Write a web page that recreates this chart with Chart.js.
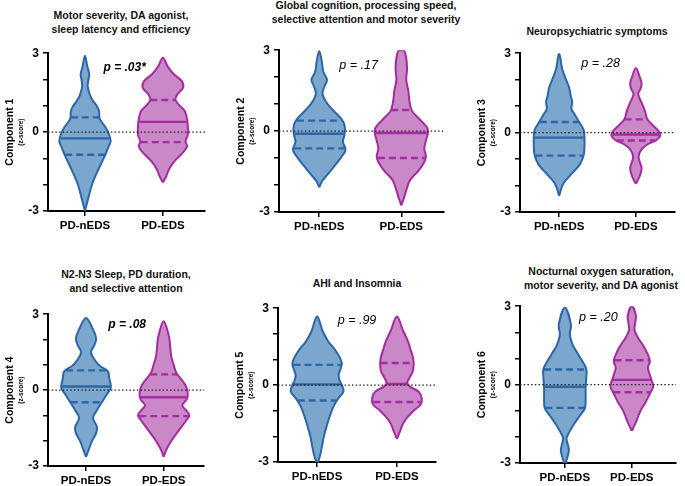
<!DOCTYPE html>
<html>
<head>
<meta charset="utf-8">
<script src="https://cdn.jsdelivr.net/npm/chart.js@4.4.1/dist/chart.umd.min.js"></script>
<style>
  body { margin: 0; background: #fff; width: 685px; height: 486px; position: relative; overflow: hidden;
         font-family: "Liberation Sans", Arial, sans-serif; }
  canvas { position: absolute; }
  .ttl { position: absolute; font-weight: bold; font-size: 10.5px; line-height: 13.5px; text-align: center;
         white-space: nowrap; transform: translateX(-50%); color: #111; }
</style>
</head>
<body>
<div id="wrap"></div>
<script>
const groups = ['PD-nEDS', 'PD-EDS'];
const panelTitles = [
  ['Motor severity, DA agonist,', 'sleep latency and efficiency'],
  ['Global cognition, processing speed,', 'selective attention and motor severity'],
  ['Neuropsychiatric symptoms'],
  ['N2-N3 Sleep, PD duration,', 'and selective attention'],
  ['AHI and Insomnia'],
  ['Nocturnal oxygen saturation,', 'motor severity, and DA agonist']
];
const yTitles = ['Component 1', 'Component 2', 'Component 3', 'Component 4', 'Component 5', 'Component 6'];
const pLabels = ['p = .03*', 'p = .17', 'p = .28', 'p = .08', 'p = .99', 'p = .20'];
const pBold = [true, false, false, true, false, false];
const yTicks = [-3, 0, 3];

// violin outlines: z-score levels and half widths (category units)
const c1nY = [-3.0, -2.6, -2.0, -1.5, -1.0, -0.8, -0.5, -0.35, -0.1, 0.2, 0.5, 0.8, 1.0, 1.2, 1.45, 1.75, 2.0, 2.2, 2.5, 2.9];
const c1nW = [0, 0.035, 0.09, 0.16, 0.24, 0.27, 0.31, 0.33, 0.31, 0.26, 0.19, 0.18, 0.15, 0.1, 0.06, 0.035, 0.045, 0.055, 0.03, 0];
const c1eY = [-1.91, -1.7, -1.4, -1.1, -0.8, -0.55, -0.35, -0.1, 0.2, 0.5, 0.8, 1.05, 1.25, 1.45, 1.7, 1.95, 2.2, 2.5, 2.83];
const c1eW = [0, 0.04, 0.08, 0.15, 0.25, 0.31, 0.29, 0.32, 0.32, 0.31, 0.28, 0.2, 0.16, 0.19, 0.26, 0.24, 0.14, 0.06, 0];
const c2nY = [-2.09, -1.85, -1.65, -1.35, -1.0, -0.7, -0.4, -0.1, 0.2, 0.45, 0.8, 1.1, 1.4, 1.7, 1.9, 2.2, 2.6, 2.97];
const c2nW = [0, 0.035, 0.09, 0.17, 0.26, 0.32, 0.29, 0.31, 0.31, 0.27, 0.16, 0.08, 0.04, 0.07, 0.095, 0.05, 0.03, 0];
const c2eY = [-2.76, -2.4, -2.1, -1.8, -1.5, -1.2, -0.95, -0.65, -0.35, -0.05, 0.15, 0.45, 0.75, 1.1, 1.5, 1.9, 2.3, 2.7, 3.0];
const c2eW = [0, 0.04, 0.07, 0.11, 0.2, 0.27, 0.3, 0.28, 0.3, 0.325, 0.31, 0.22, 0.13, 0.1, 0.085, 0.06, 0.07, 0.06, 0.03];
const c3nY = [-2.39, -2.1, -1.9, -1.6, -1.2, -0.85, -0.5, -0.2, 0.1, 0.4, 0.65, 0.9, 1.15, 1.4, 1.7, 2.0, 2.4, 3.0];
const c3nW = [0, 0.03, 0.06, 0.15, 0.27, 0.32, 0.33, 0.33, 0.32, 0.26, 0.21, 0.16, 0.17, 0.15, 0.13, 0.09, 0.04, 0];
const c3eY = [-1.93, -1.65, -1.35, -1.1, -0.9, -0.65, -0.45, -0.28, -0.1, 0.05, 0.25, 0.5, 0.8, 1.1, 1.45, 1.65, 1.85, 2.1, 2.44];
const c3eW = [0, 0.05, 0.075, 0.05, 0.035, 0.07, 0.15, 0.27, 0.32, 0.3, 0.23, 0.15, 0.12, 0.08, 0.03, 0.06, 0.075, 0.05, 0];
const c4nY = [-2.64, -2.35, -2.0, -1.7, -1.45, -1.1, -0.8, -0.5, -0.2, 0.1, 0.45, 0.75, 0.95, 1.2, 1.5, 1.8, 2.05, 2.4, 2.85];
const c4nW = [0, 0.035, 0.08, 0.13, 0.14, 0.09, 0.14, 0.2, 0.26, 0.32, 0.3, 0.28, 0.18, 0.11, 0.065, 0.11, 0.13, 0.09, 0];
const c4eY = [-2.64, -2.35, -2.0, -1.7, -1.45, -1.2, -1.0, -0.8, -0.6, -0.35, -0.1, 0.2, 0.45, 0.7, 1.0, 1.3, 1.7, 2.1, 2.72];
const c4eW = [0, 0.035, 0.1, 0.17, 0.23, 0.29, 0.33, 0.29, 0.24, 0.3, 0.31, 0.28, 0.22, 0.16, 0.13, 0.1, 0.085, 0.07, 0];
const c5nY = [-3.0, -2.7, -2.4, -2.0, -1.6, -1.2, -0.8, -0.5, -0.25, 0.0, 0.2, 0.4, 0.6, 0.85, 1.1, 1.4, 1.7, 2.1, 2.68];
const c5nW = [0.01, 0.04, 0.06, 0.085, 0.12, 0.16, 0.21, 0.27, 0.33, 0.31, 0.28, 0.27, 0.29, 0.31, 0.28, 0.22, 0.14, 0.07, 0];
const c5eY = [-2.1, -1.8, -1.55, -1.3, -1.0, -0.75, -0.5, -0.25, -0.05, 0.1, 0.3, 0.55, 0.85, 1.1, 1.4, 1.7, 2.1, 2.68];
const c5eW = [0, 0.04, 0.07, 0.12, 0.21, 0.3, 0.31, 0.27, 0.16, 0.13, 0.16, 0.2, 0.21, 0.2, 0.17, 0.14, 0.08, 0];
const c6nY = [-3.0, -2.75, -2.5, -2.25, -2.05, -1.8, -1.5, -1.2, -0.9, -0.5, -0.1, 0.25, 0.6, 0.9, 1.2, 1.5, 1.9, 2.3, 2.94];
const c6nW = [0.01, 0.04, 0.06, 0.04, 0.025, 0.07, 0.14, 0.22, 0.3, 0.31, 0.31, 0.32, 0.32, 0.26, 0.19, 0.12, 0.075, 0.09, 0];
const c6eY = [-1.77, -1.5, -1.25, -1.0, -0.7, -0.45, -0.25, -0.05, 0.2, 0.45, 0.65, 0.9, 1.2, 1.5, 1.8, 2.1, 2.35, 2.65, 3.0];
const c6eW = [0, 0.05, 0.09, 0.13, 0.2, 0.25, 0.29, 0.32, 0.29, 0.26, 0.24, 0.27, 0.23, 0.17, 0.09, 0.04, 0.05, 0.06, 0];

// quartiles [Q1, median, Q3]
const c1nQ = [-0.86, -0.24, 0.56], c1eQ = [-0.38, 0.39, 1.22];
const c2nQ = [-0.64, -0.1, 0.39],  c2eQ = [-1.0, -0.07, 0.78];
const c3nQ = [-0.87, -0.19, 0.4],  c3eQ = [-0.3, -0.07, 0.5];
const c4nQ = [-0.48, 0.14, 0.78],  c4eQ = [-1.03, -0.28, 0.62];
const c5nQ = [-0.6, 0.03, 0.79],   c5eQ = [-0.66, 0.04, 0.86];
const c6nQ = [-0.89, -0.08, 0.58], c6eQ = [-0.29, 0.18, 0.93];

// p-value label anchor [x, y] in data units
const pPos = [[1.51, 2.46], [1.48, 2.44], [1.54, 2.6], [1.53, 2.58], [1.5, 2.53], [1.5, 2.55]];

const violins = [
  [[c1nY, c1nW, c1nQ], [c1eY, c1eW, c1eQ]],
  [[c2nY, c2nW, c2nQ], [c2eY, c2eW, c2eQ]],
  [[c3nY, c3nW, c3nQ], [c3eY, c3eW, c3eQ]],
  [[c4nY, c4nW, c4nQ], [c4eY, c4eW, c4eQ]],
  [[c5nY, c5nW, c5nQ], [c5eY, c5eW, c5eQ]],
  [[c6nY, c6nW, c6nQ], [c6eY, c6eW, c6eQ]]
];

// layout: axis x, plot top, plot bottom, plot right, x min, x max, title center x, title top
const frames = [
  [48, 50, 211, 205, 0.526, 2.54, 121, 9],
  [279, 47, 212, 444, 0.51, 2.52, 366, -1],
  [520, 50, 212, 675, 0.49, 2.51, 597, 25],
  [48, 311, 466, 204, 0.51, 2.52, 126, 268],
  [278, 305, 462, 436, 0.51, 2.49, 357, 277],
  [520, 303, 463, 676, 0.33, 2.66, 601, 265]
];

const fills = ['#7ba7cf', '#cb88c9'];
const lines = ['#2c66a6', '#a32c9f'];
const FONT = '"Liberation Sans", Arial, sans-serif';
Chart.defaults.font.family = FONT;

function outline(c, ys, ws) {
  const pts = ys.map((y, k) => ({x: c - ws[k], y: y}));
  for (let k = ys.length - 1; k >= 0; k--) {
    if (k === ys.length - 1 && ws[k] === 0) continue;
    pts.push({x: c + ws[k], y: ys[k]});
  }
  if (ws[0] > 0) pts.push({x: c - ws[0], y: ys[0]});
  return pts;
}

function widthAt(ys, ws, v) {
  for (let k = 1; k < ys.length; k++) {
    if (v <= ys[k]) {
      const t = (v - ys[k - 1]) / (ys[k] - ys[k - 1]);
      return ws[k - 1] + t * (ws[k] - ws[k - 1]);
    }
  }
  return ws[ws.length - 1];
}

const sidePlugin = {
  id: 'side',
  afterDraw(chart, args, opts) {
    const {ctx, chartArea, scales} = chart;
    const cy = (chartArea.top + chartArea.bottom) / 2;
    ctx.save();
    ctx.fillStyle = '#000';
    ctx.textAlign = 'center';
    ctx.textBaseline = 'middle';
    ctx.translate(chartArea.left - 38, cy);
    ctx.rotate(-Math.PI / 2);
    ctx.font = 'bold 10.5px ' + FONT;
    ctx.fillText(opts.title, 0, 0);
    ctx.font = 'bold 6.5px ' + FONT;
    ctx.fillText('(z-score)', 0, 11);
    ctx.restore();

    ctx.save();
    ctx.fillStyle = '#000';
    ctx.textAlign = 'center';
    ctx.textBaseline = 'middle';
    ctx.font = (opts.bold ? 'italic bold 12px ' : 'italic 12.5px ') + FONT;
    ctx.fillText(opts.p, scales.x.getPixelForValue(opts.pos[0]), scales.y.getPixelForValue(opts.pos[1]));
    ctx.restore();
  }
};

frames.forEach((f, i) => {
  const [ax, top, bot, right, xmin, xmax, tx, ty] = f;

  const t = document.createElement('div');
  t.className = 'ttl';
  t.style.left = tx + 'px';
  t.style.top = ty + 'px';
  t.innerHTML = panelTitles[i].join('<br>');
  document.body.appendChild(t);

  const cv = document.createElement('canvas');
  const w = right - ax + 48 + 6;
  const h = bot - top + 8 + 22 + 2;
  cv.width = w; cv.height = h;
  cv.style.left = (ax - 48) + 'px';
  cv.style.top = (top - 8) + 'px';
  cv.style.width = w + 'px';
  cv.style.height = h + 'px';
  document.body.appendChild(cv);

  const datasets = [{
    data: [{x: xmin, y: 0}, {x: xmax, y: 0}],
    borderColor: '#222', borderWidth: 1.3, borderDash: [1.5, 2.2],
    showLine: true, pointRadius: 0, order: 0
  }];

  violins[i].forEach((v, g) => {
    const [ys, ws, qs] = v;
    const c = g + 1;
    qs.forEach((q, k) => {
      const hw = widthAt(ys, ws, q) * 0.97;
      datasets.push({
        data: [{x: c - hw, y: q}, {x: c + hw, y: q}],
        borderColor: lines[g], borderWidth: 2.4,
        borderDash: k === 1 ? [] : [7, 4],
        showLine: true, pointRadius: 0, order: 1
      });
    });
    datasets.push({
      data: outline(c, ys, ws),
      borderColor: lines[g], backgroundColor: fills[g], borderWidth: 2,
      fill: 'shape', showLine: true, pointRadius: 0, tension: 0.35, order: 2
    });
  });

  new Chart(cv, {
    type: 'scatter',
    data: {datasets: datasets},
    options: {
      responsive: false,
      animation: false,
      devicePixelRatio: 1,
      layout: {padding: {top: 8, right: 6, bottom: 2, left: 0}},
      plugins: {
        legend: {display: false},
        tooltip: {enabled: false},
        side: {title: yTitles[i], p: pLabels[i], bold: pBold[i], pos: pPos[i]}
      },
      scales: {
        x: {
          type: 'linear', min: xmin, max: xmax,
          afterBuildTicks: s => { s.ticks = [{value: 1}, {value: 2}]; },
          afterFit: s => { s.height = 22; },
          ticks: {callback: v => groups[v - 1], color: '#000', padding: 3,
                  font: {size: 11.5, weight: 'bold'}, autoSkip: false, maxRotation: 0},
          grid: {drawOnChartArea: false, drawTicks: true, tickLength: 5, color: '#000', lineWidth: 1.5},
          border: {display: true, color: '#000', width: 2}
        },
        y: {
          min: -3, max: 3,
          afterBuildTicks: s => { s.ticks = [-3, -2, -1, 0, 1, 2, 3].map(v => ({value: v})); },
          afterFit: s => { s.width = 48; },
          ticks: {callback: v => (yTicks.includes(v) ? String(v) : ''), color: '#000', padding: 4,
                  font: {size: 12, weight: 'bold'}, autoSkip: false},
          grid: {drawOnChartArea: false, drawTicks: true, tickLength: 5, color: '#000', lineWidth: 1.5},
          border: {display: true, color: '#000', width: 2}
        }
      }
    },
    plugins: [sidePlugin]
  });
});
</script>
</body>
</html>
